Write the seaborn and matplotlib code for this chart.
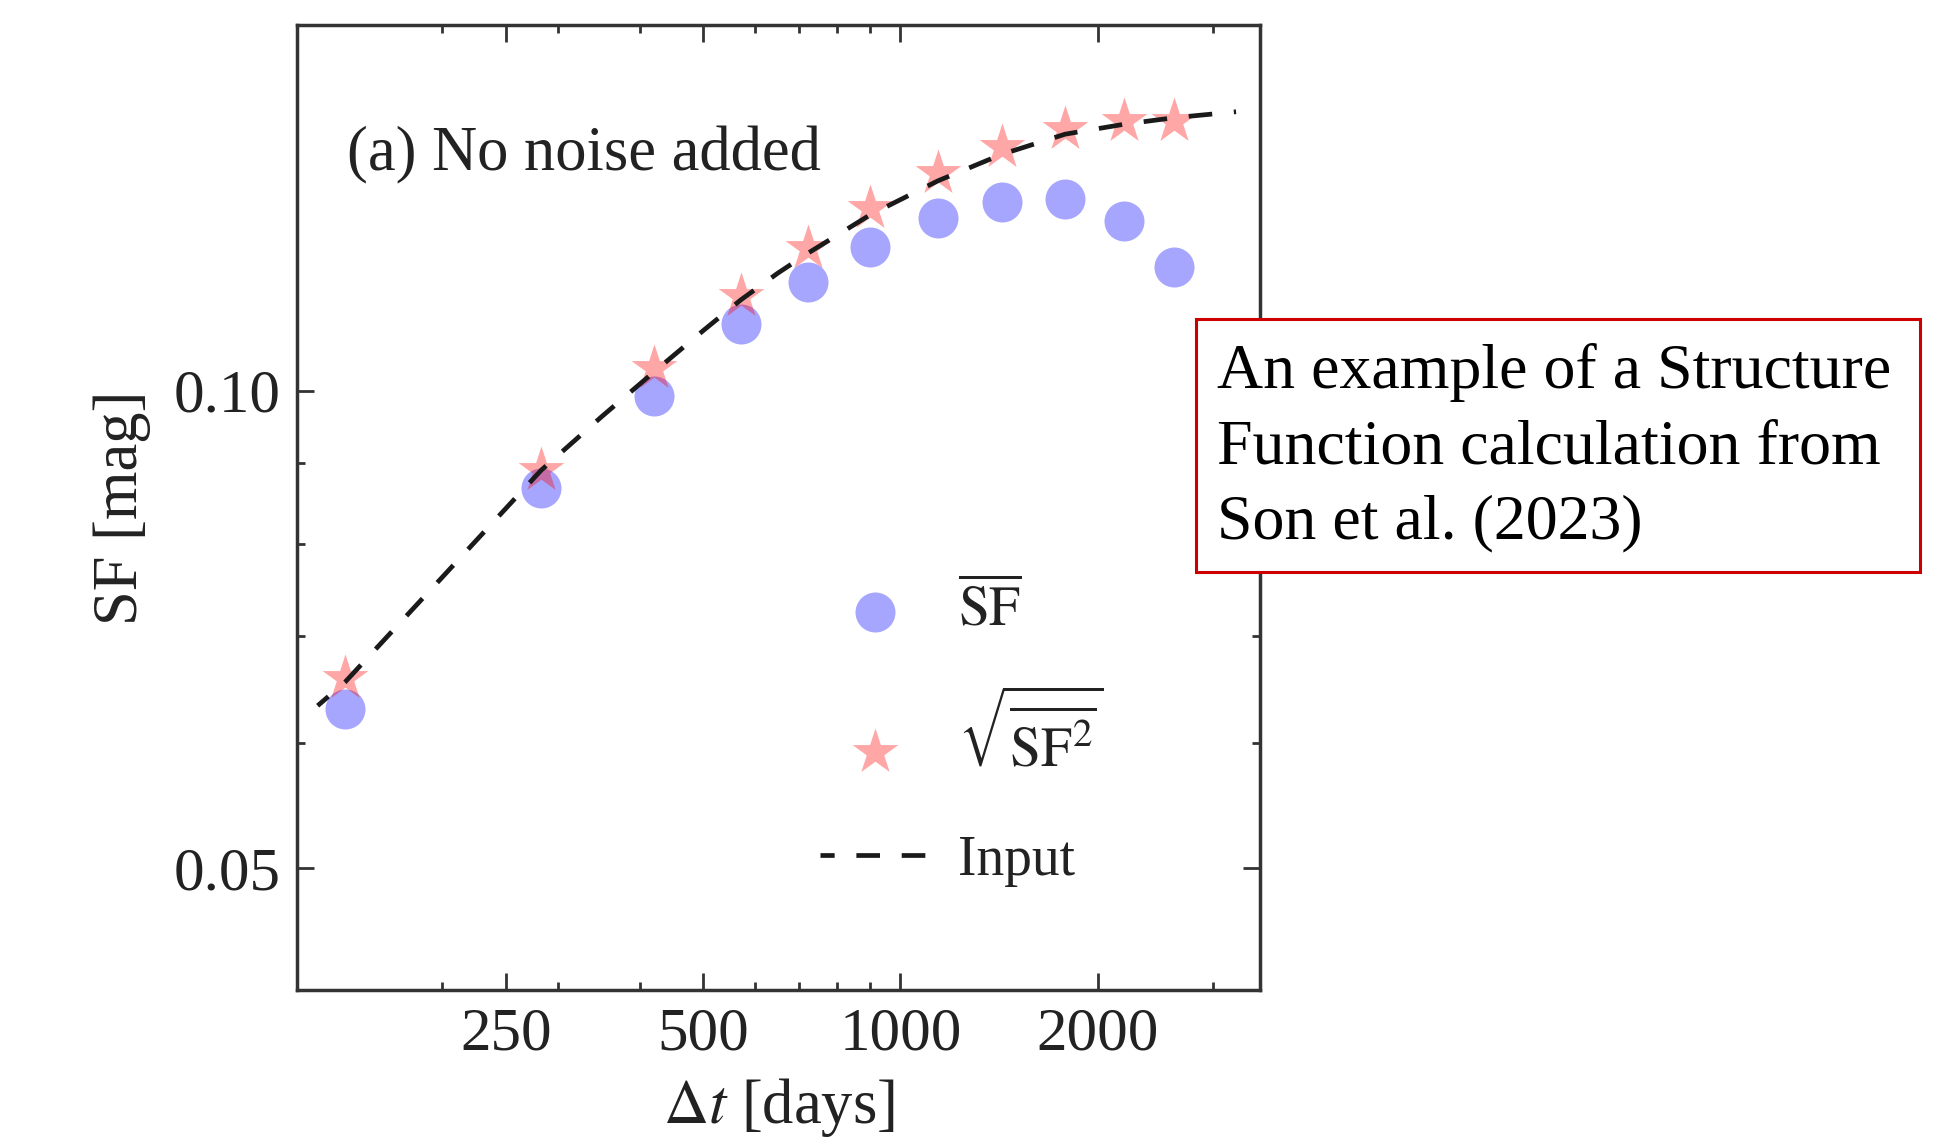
import matplotlib
matplotlib.use("Agg")
import matplotlib.pyplot as plt
from matplotlib.patches import Rectangle
from matplotlib.ticker import FixedLocator, FixedFormatter, LogLocator, NullFormatter
import pandas as pd
import seaborn as sns

# Binned time lags (days)
dt_bins = [142, 283, 420, 571, 723, 900, 1141, 1427, 1784, 2193, 2614]
# Mean structure function per bin [mag]
sf_mean = [0.0630, 0.0868, 0.0993, 0.1101, 0.1171, 0.1232, 0.1284, 0.1315, 0.1320, 0.1280, 0.1197]
# Root-mean-square structure function per bin [mag]
sf_rms = [0.0659, 0.0891, 0.1033, 0.1148, 0.1230, 0.1303, 0.1371, 0.1424, 0.1461, 0.1480, 0.1480]

# Input (model) structure function
dt_model = [129, 142, 200, 283, 350, 420, 500, 571, 650, 723, 900, 1141, 1427, 1784, 2193, 2614, 3253]
sf_model = [0.0633, 0.0655, 0.0763, 0.0891, 0.0963, 0.1027, 0.1091, 0.1141, 0.1186, 0.1221,
             0.1291, 0.1356, 0.1409, 0.1451, 0.1472, 0.1486, 0.1499]

x_ticks = [250, 500, 1000, 2000]
x_tick_labels = ["250", "500", "1000", "2000"]
y_ticks = [0.05, 0.10]
y_tick_labels = ["0.05", "0.10"]

legend_labels = [r"$\overline{\mathrm{SF}}$", r"$\sqrt{\overline{\mathrm{SF}^2}}$", "Input"]
panel_title = "(a) No noise added"
note_lines = ["An example of a Structure", "Function calculation from", "Son et al. (2023)"]

sns.set_theme(style="ticks")
plt.rcParams["font.family"] = ["Liberation Serif", "DejaVu Serif"]
plt.rcParams["mathtext.fontset"] = "stix"

fig = plt.figure(figsize=(19.57, 11.39), dpi=100)
ax = fig.add_axes([0.1518, 0.1308, 0.4921, 0.8472])

pts = pd.DataFrame({"dt": dt_bins, "mean": sf_mean, "rms": sf_rms})
model = pd.DataFrame({"dt": dt_model, "sf": sf_model})

sns.scatterplot(data=pts, x="dt", y="mean", ax=ax, marker="o", s=830, color="blue",
                alpha=0.35, linewidth=0, label=legend_labels[0], zorder=2)
sns.scatterplot(data=pts, x="dt", y="rms", ax=ax, marker="*", s=1200, color="red",
                alpha=0.35, linewidth=0, label=legend_labels[1], zorder=3)
sns.lineplot(data=model, x="dt", y="sf", ax=ax, color="#1a1a1a", linewidth=3.4,
             linestyle=(2.0, (5.0, 4.6)), sort=False, estimator=None, label=legend_labels[2], zorder=4)

ax.set_xscale("log")
ax.set_yscale("log")
ax.set_xlim(120, 3540)
ax.set_ylim(0.0419, 0.170)

ax.xaxis.set_major_locator(FixedLocator(x_ticks))
ax.xaxis.set_major_formatter(FixedFormatter(x_tick_labels))
ax.xaxis.set_minor_locator(LogLocator(base=10, subs=range(2, 10)))
ax.xaxis.set_minor_formatter(NullFormatter())
ax.yaxis.set_major_locator(FixedLocator(y_ticks))
ax.yaxis.set_major_formatter(FixedFormatter(y_tick_labels))
ax.yaxis.set_minor_locator(LogLocator(base=10, subs=range(2, 10)))
ax.yaxis.set_minor_formatter(NullFormatter())

ax.tick_params(which="both", direction="in", top=True, right=True, width=2,
               color="#333333", labelcolor="#222222", labelsize=44, pad=12)
ax.tick_params(which="major", length=12)
ax.tick_params(which="minor", length=6)
for sp in ax.spines.values():
    sp.set_linewidth(2.5)
    sp.set_color("#333333")
    sp.set_visible(True)

ax.set_xlabel(r"$\Delta t$ [days]", fontsize=45, color="#222222", labelpad=10)
ax.set_ylabel("SF [mag]", fontsize=45, color="#222222", labelpad=16)

ax.text(0.052, 0.865, panel_title, transform=ax.transAxes, fontsize=45,
        color="#222222", ha="left", va="center")

ax.legend(loc="center", bbox_to_anchor=(0.69, 0.265), frameon=False, fontsize=40,
          labelspacing=1.0, handlelength=2.0, handletextpad=0.5, labelcolor="#222222")

# Caption box beside the panel
box = Rectangle((0.6111, 0.4978), 0.370, 0.2221, transform=fig.transFigure,
                facecolor="white", edgecolor="#cc0000", linewidth=2.2, zorder=10)
fig.add_artist(box)
for i, line in enumerate(note_lines):
    fig.text(0.622, 0.673 - i * 0.0665, line, fontsize=46, color="black",
             ha="left", va="center", zorder=11)

fig.savefig("out.png", dpi=100)
